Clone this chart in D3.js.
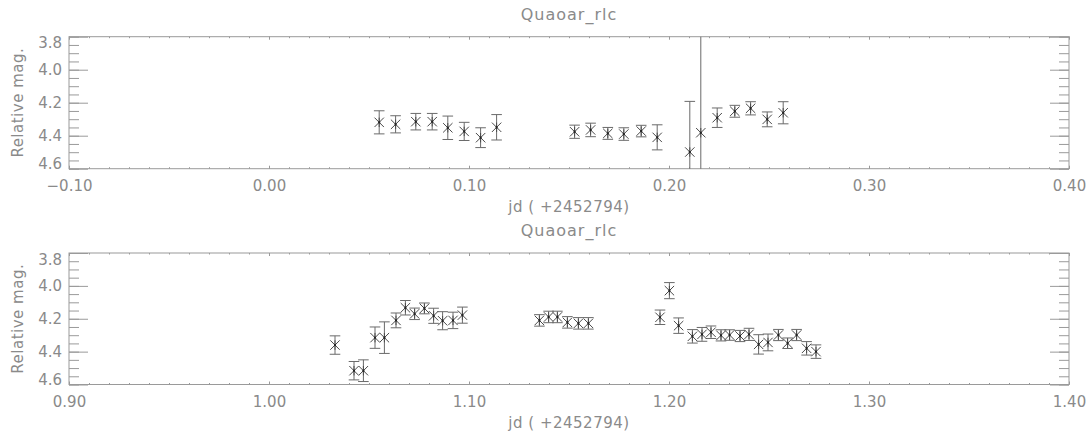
<!DOCTYPE html>
<html lang="en">
<head>
<meta charset="UTF-8">
<script src="https://cdnjs.cloudflare.com/ajax/libs/d3/7.8.5/d3.min.js"></script>
<style>
    body { margin: 0; background: #fff; }
    text { font-family: "DejaVu Sans", sans-serif; fill: #8a8a8a; }
</style>
</head>
<body>
<div id="chart"></div>
<script>
    // top panel: night 1
    var jd1 = [0.0551, 0.0633, 0.0734, 0.0816, 0.0894, 0.0976, 0.1058, 0.1138,
        0.1528, 0.1608, 0.1694, 0.1774, 0.1861, 0.1941,
        0.2104, 0.2159, 0.2241, 0.2329, 0.2408, 0.2491, 0.2571];
    var mag1 = [4.319, 4.331, 4.315, 4.315, 4.352, 4.374, 4.412, 4.349,
        4.376, 4.365, 4.386, 4.390, 4.372, 4.410,
        4.499, 4.382, 4.291, 4.252, 4.234, 4.301, 4.261];
    var err1 = [0.070, 0.052, 0.050, 0.050, 0.071, 0.055, 0.060, 0.077,
        0.040, 0.041, 0.036, 0.038, 0.035, 0.076,
        0.307, 0.600, 0.059, 0.036, 0.040, 0.045, 0.067];

    // bottom panel: night 2
    var jd2 = [1.0330, 1.0425, 1.0472, 1.0530, 1.0577, 1.0635, 1.0682, 1.0728, 1.0777, 1.0823, 1.0868, 1.0920, 1.0967,
        1.1352, 1.1398, 1.1442, 1.1492, 1.1547, 1.1597,
        1.1955, 1.2002, 1.2048, 1.2117, 1.2165, 1.2210, 1.2260, 1.2303, 1.2355, 1.2400, 1.2448, 1.2495, 1.2547, 1.2593, 1.2638, 1.2688, 1.2735];
    var mag2 = [4.360, 4.516, 4.516, 4.315, 4.315, 4.210, 4.133, 4.170, 4.137, 4.182, 4.212, 4.210, 4.178,
        4.210, 4.189, 4.189, 4.222, 4.228, 4.228,
        4.191, 4.029, 4.242, 4.307, 4.295, 4.282, 4.301, 4.299, 4.305, 4.295, 4.356, 4.344, 4.299, 4.349, 4.299, 4.380, 4.400];
    var err2 = [0.056, 0.056, 0.066, 0.065, 0.096, 0.045, 0.044, 0.035, 0.033, 0.046, 0.055, 0.050, 0.049,
        0.035, 0.035, 0.035, 0.035, 0.035, 0.035,
        0.044, 0.049, 0.047, 0.041, 0.042, 0.038, 0.034, 0.032, 0.034, 0.037, 0.059, 0.051, 0.034, 0.032, 0.034, 0.041, 0.041];

    var xTicks1 = [-0.10, 0.00, 0.10, 0.20, 0.30, 0.40];
    var xTicks2 = [0.90, 1.00, 1.10, 1.20, 1.30, 1.40];
    var yTicks = [3.8, 4.0, 4.2, 4.4, 4.6];
    var title = "Quaoar_rlc";
    var xTitle = "jd ( +2452794)";
    var yTitle = "Relative mag.";

    var W = 1088, H = 432;
    var svg = d3.select("#chart").append("svg")
        .attr("width", W)
        .attr("height", H);

    drawPanel(0, 36.7, 168.7, xTicks1, jd1, mag1, err1, "c1");
    drawPanel(1, 253, 384.5, xTicks2, jd2, mag2, err2, "c2");

    function fmtX(d) {
        var s = d3.format(".2f")(Math.abs(d));
        return d < 0 ? "\u2212" + s : s;
    }

    function drawPanel(idx, top, bottom, xTicks, jd, mag, err, clipId) {
        var left = 69, right = 1069;
        var x = d3.scaleLinear().domain([xTicks[0], xTicks[xTicks.length - 1]]).range([left, right]);
        var y = d3.scaleLinear().domain([3.8, 4.6]).range([top, bottom]);

        var xMinor = d3.range(0, 51).map(function (i) { return xTicks[0] + i * 0.01; });
        var yMinor = d3.range(0, 17).map(function (i) { return 3.8 + i * 0.05; });

        var g = svg.append("g");

        // title
        g.append("text")
            .attr("x", (left + right) / 2)
            .attr("y", top - 17)
            .attr("text-anchor", "middle")
            .style("font-size", "16px")
            .style("letter-spacing", "1px")
            .text(title);

        // axes
        var axes = g.append("g");
        axes.append("g").attr("transform", "translate(0," + bottom + ")")
            .call(d3.axisBottom(x).tickValues(xMinor).tickSizeInner(-1.5).tickSizeOuter(0).tickFormat(""));
        axes.append("g").attr("transform", "translate(0," + top + ")")
            .call(d3.axisTop(x).tickValues(xMinor).tickSizeInner(-1.5).tickSizeOuter(0).tickFormat(""));
        axes.append("g").attr("transform", "translate(0," + bottom + ")")
            .attr("class", "xlab")
            .call(d3.axisBottom(x).tickValues(xTicks).tickSizeInner(-3).tickSizeOuter(0).tickPadding(12).tickFormat(fmtX));
        axes.append("g").attr("transform", "translate(0," + top + ")")
            .call(d3.axisTop(x).tickValues(xTicks).tickSizeInner(-3).tickSizeOuter(0).tickFormat(""));

        axes.append("g").attr("transform", "translate(" + left + ",0)")
            .call(d3.axisLeft(y).tickValues(yMinor).tickSizeInner(-10).tickSizeOuter(0).tickFormat(""));
        axes.append("g").attr("transform", "translate(" + right + ",0)")
            .call(d3.axisRight(y).tickValues(yMinor).tickSizeInner(-10).tickSizeOuter(0).tickFormat(""));
        axes.append("g").attr("transform", "translate(" + left + ",0)")
            .attr("class", "ylab")
            .call(d3.axisLeft(y).tickValues(yTicks).tickSizeInner(-19).tickSizeOuter(0).tickPadding(7).tickFormat(d3.format(".1f")));
        axes.append("g").attr("transform", "translate(" + right + ",0)")
            .call(d3.axisRight(y).tickValues(yTicks).tickSizeInner(-19).tickSizeOuter(0).tickFormat(""));

        axes.selectAll(".domain").remove();
        axes.selectAll("line").attr("stroke", "#9a9a9a");
        axes.selectAll("text")
            .attr("fill", "#8a8a8a")
            .style("font-size", "15px")
            .style("font-family", "DejaVu Sans, sans-serif");

        // IDL pushes the end labels inside the box
        axes.select(".ylab").selectAll(".tick text")
            .attr("dy", function (d) { return d === 3.8 ? "0.75em" : (d === 4.6 ? "0em" : "0.32em"); });

        // box
        g.append("rect")
            .attr("x", left).attr("y", top)
            .attr("width", right - left).attr("height", bottom - top)
            .attr("fill", "none")
            .attr("stroke", "#9a9a9a");

        // axis titles
        g.append("text")
            .attr("x", (left + right) / 2)
            .attr("y", bottom + 43)
            .attr("text-anchor", "middle")
            .style("font-size", "15px")
            .style("letter-spacing", "0.5px")
            .text(xTitle);
        g.append("text")
            .attr("transform", "translate(23," + (top + bottom) / 2 + ") rotate(-90)")
            .attr("text-anchor", "middle")
            .style("font-size", "15px")
            .style("letter-spacing", "0.5px")
            .text(yTitle);

        // data
        svg.append("clipPath").attr("id", clipId)
            .append("rect")
            .attr("x", left).attr("y", top)
            .attr("width", right - left).attr("height", bottom - top);

        var pts = jd.map(function (d, i) { return {jd: d, mag: mag[i], err: err[i]}; });
        var dg = g.append("g").attr("clip-path", "url(#" + clipId + ")");
        var cap = 5.3, s = 4.7;

        var eb = dg.selectAll("g.eb").data(pts).enter().append("g")
            .attr("stroke", "#6a6a6a")
            .attr("stroke-width", 1)
            .attr("fill", "none");
        eb.append("line")
            .attr("x1", function (d) { return x(d.jd); })
            .attr("x2", function (d) { return x(d.jd); })
            .attr("y1", function (d) { return y(d.mag - d.err); })
            .attr("y2", function (d) { return y(d.mag + d.err); });
        eb.append("line")
            .attr("x1", function (d) { return x(d.jd) - cap; })
            .attr("x2", function (d) { return x(d.jd) + cap; })
            .attr("y1", function (d) { return y(d.mag - d.err); })
            .attr("y2", function (d) { return y(d.mag - d.err); });
        eb.append("line")
            .attr("x1", function (d) { return x(d.jd) - cap; })
            .attr("x2", function (d) { return x(d.jd) + cap; })
            .attr("y1", function (d) { return y(d.mag + d.err); })
            .attr("y2", function (d) { return y(d.mag + d.err); });

        // asterisk marker (psym=2)
        dg.selectAll("path.ast").data(pts).enter().append("path")
            .attr("class", "ast")
            .attr("d", function (d) {
                var cx = x(d.jd), cy = y(d.mag);
                return "M" + (cx - s) + "," + (cy - s) + "L" + (cx + s) + "," + (cy + s) +
                    "M" + (cx - s) + "," + (cy + s) + "L" + (cx + s) + "," + (cy - s) +
                    "M" + cx + "," + (cy - s) + "L" + cx + "," + (cy + s);
            })
            .attr("fill", "none")
            .attr("stroke", "#4a4a4a")
            .attr("stroke-width", 1);
        dg.selectAll("rect.ctr").data(pts).enter().append("rect")
            .attr("x", function (d) { return x(d.jd) - 1; })
            .attr("y", function (d) { return y(d.mag) - 1; })
            .attr("width", 2).attr("height", 2)
            .attr("fill", "#222");
    }
</script>
</body>
</html>
